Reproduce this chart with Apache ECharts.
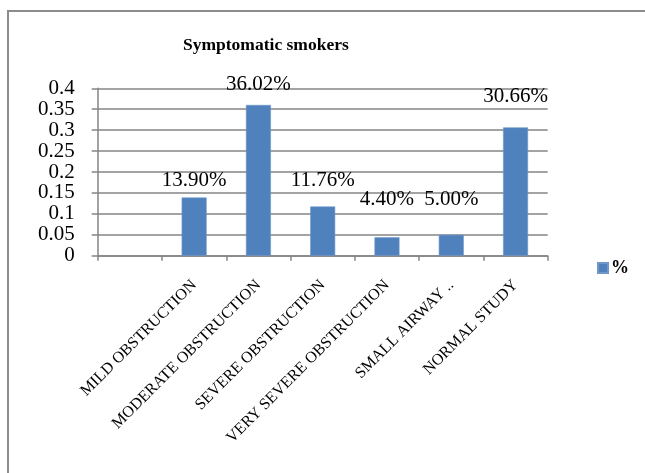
<!DOCTYPE html>
<html>
<head>
<meta charset="utf-8">
<title>Symptomatic smokers</title>
<script src="https://cdn.jsdelivr.net/npm/echarts@6/dist/echarts.min.js"></script>
<style>
  html, body { margin: 0; padding: 0; background: #ffffff; overflow: hidden; }
  #chart { width: 645px; height: 473px; }
</style>
</head>
<body>
<div id="chart"></div>
<script>
// Spirometry findings among symptomatic smokers (fractions of the group)
const categories = ['', 'MILD OBSTRUCTION', 'MODERATE OBSTRUCTION', 'SEVERE OBSTRUCTION',
  'VERY SEVERE OBSTRUCTION', 'SMALL AIRWAY ..', 'NORMAL STUDY'];
const shares = [null, 0.139, 0.3602, 0.1176, 0.044, 0.05, 0.3066];
const seriesName = '%';
const yTicks = { min: 0, max: 0.4, step: 0.05 };

// gap between each bar top and its value label
const labelGap = [0, 7, 10, 16, 27, 25, 20];

const serif = '"Liberation Serif", "Times New Roman", serif';
const gridGray = '#858585';

const barData = shares.map((v, i) => ({
  value: v,
  label: { distance: labelGap[i] }
}));

const chart = echarts.init(document.getElementById('chart'), null, { renderer: 'canvas' });
chart.setOption({
  animation: false,
  backgroundColor: '#ffffff',
  title: {
    text: 'Symptomatic smokers',
    left: 178,
    top: 31,
    textStyle: { fontFamily: serif, fontSize: 17.5, fontWeight: 'bold', color: '#000' }
  },
  graphic: [{
    type: 'rect',
    shape: { x: 8, y: 11, width: 1200, height: 1000 },
    style: { fill: 'none', stroke: '#8c8c8c', lineWidth: 2 },
    silent: true
  }],
  legend: {
    left: 592,
    top: 254,
    icon: 'rect',
    itemWidth: 10,
    itemHeight: 10,
    itemGap: 4,
    textStyle: { fontFamily: serif, fontSize: 18, fontWeight: 'bold', color: '#000', padding: [0, 0, 0, -2] },
    data: [seriesName]
  },
  grid: { left: 97.7, right: 97.3, top: 88.3, bottom: 217.3, containLabel: false },
  xAxis: {
    type: 'category',
    data: categories,
    boundaryGap: true,
    axisLine: { show: true, lineStyle: { color: gridGray, width: 1.5 } },
    axisTick: { show: true, length: 5, lineStyle: { color: gridGray, width: 1.5 } },
    axisLabel: {
      interval: 0,
      rotate: 45,
      margin: 27,
      fontFamily: serif,
      fontSize: 16,
      color: '#000'
    },
    splitLine: { show: false }
  },
  yAxis: {
    type: 'value',
    min: yTicks.min,
    max: yTicks.max,
    interval: yTicks.step,
    axisLine: { show: true, lineStyle: { color: gridGray, width: 1.5 } },
    axisTick: { show: true, length: 6, lineStyle: { color: gridGray, width: 1.5 } },
    axisLabel: {
      margin: 23,
      fontFamily: serif,
      fontSize: 21,
      color: '#000',
      formatter: v => String(+v.toFixed(2))
    },
    splitLine: { show: true, lineStyle: { color: gridGray, width: 1.5 } }
  },
  series: [{
    name: seriesName,
    type: 'bar',
    data: barData,
    barWidth: 25,
    itemStyle: { color: '#4f81bd', borderColor: '#6f98c9', borderWidth: 0.6 },
    label: {
      show: true,
      position: 'top',
      fontFamily: serif,
      fontSize: 21,
      color: '#000',
      formatter: p => (p.value * 100).toFixed(2) + '%'
    }
  }]
});
</script>
</body>
</html>
